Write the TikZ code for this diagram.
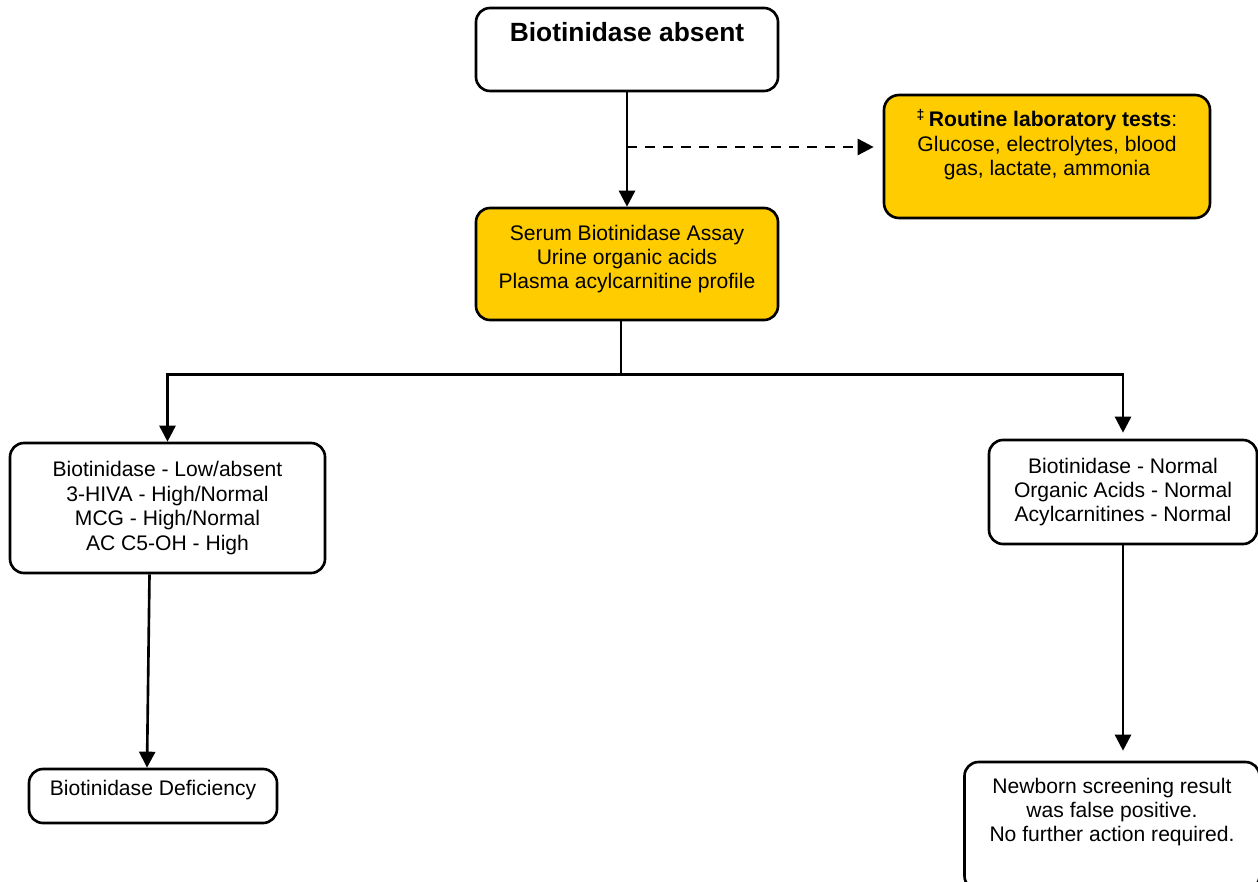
\documentclass[tikz,border=0pt]{standalone}
\usepackage{fontspec}
\setmainfont{Liberation Sans}
\usetikzlibrary{arrows.meta}
\definecolor{testyellow}{HTML}{FFCC00}

\begin{document}
\begin{tikzpicture}[
    font=\fontsize{12}{13.9}\selectfont,
    box/.style={rectangle, rounded corners=0.28cm, draw=black, line width=1.5pt, fill=white, align=center, inner sep=0pt},
    test/.style={box, fill=testyellow},
    flow/.style={line width=1.5pt, -{Triangle[length=0.32cm, width=0.32cm]}},
]
    \useasboundingbox (0,0) rectangle (25.16,-17.64);
    \clip (0,0) rectangle (25.16,-17.64);

    % Start
    \node[box, minimum width=6.04cm, text height=0.68cm, text depth=0.98cm, font=\fontsize{15}{18}\selectfont\bfseries] (absent) at (12.54,-0.99) {Biotinidase absent};

    % Tests
    \node[test, minimum width=6.52cm, minimum height=2.46cm, rounded corners=0.3cm] (routine) at (20.94,-3.13) {\textbf{\textsuperscript{‡}\,Routine laboratory tests}:\\Glucose, electrolytes, blood\\gas, lactate, ammonia\\[0.08cm]};
    \node[test, minimum width=6.04cm, minimum height=2.24cm] (serum) at (12.54,-5.28) {Serum Biotinidase Assay\\Urine organic acids\\Plasma acylcarnitine profile\\[-0.2cm]};

    % Results
    \node[box, minimum width=6.3cm, minimum height=2.6cm] (lowbox) at (3.35,-10.16) {Biotinidase - Low/absent\\3-HIVA - High/Normal\\MCG - High/Normal\\AC C5-OH - High};
    \node[box, minimum width=5.36cm, minimum height=2.08cm] (normbox) at (22.46,-9.84) {Biotinidase - Normal\\Organic Acids - Normal\\Acylcarnitines - Normal};

    % Outcomes
    \node[box, minimum width=4.96cm, text height=0.52cm, text depth=0.56cm] (deficiency) at (3.06,-15.92) {Biotinidase Deficiency};
    \node[box, minimum width=5.9cm, minimum height=2.56cm] (newborn) at (22.24,-16.52) {Newborn screening result\\was false positive.\\No further action required.\\[0.16cm]};

    % Connections
    \coordinate (tests) at ([yshift=0.19cm]routine.west);
    \coordinate (fork) at ([xshift=-0.12cm, yshift=-1.06cm]serum.south);
    \draw[flow] (absent) -- (serum);
    \draw[flow, dashed, dash pattern=on 0.2cm off 0.16cm, shorten >=0.18cm] (absent.south |- tests) -- (tests);
    \draw[line width=1.5pt] ([xshift=-0.12cm]serum.south) -- (fork);
    \draw[flow] (fork) -| (lowbox.north);
    \draw[flow, shorten >=0.12cm] (fork) -| (normbox.north);
    \draw[flow] ([xshift=-0.36cm]lowbox.south) -- ([xshift=-0.12cm]deficiency.north);
    \draw[flow, shorten >=0.2cm] (normbox.south) -- (normbox.south |- newborn.north);
\end{tikzpicture}
\end{document}
